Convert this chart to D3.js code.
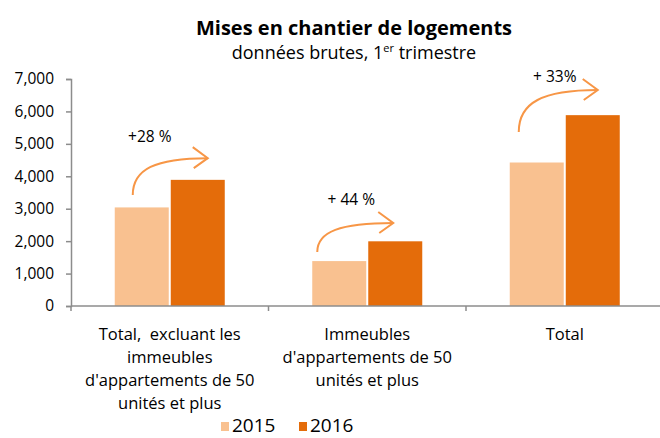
<!DOCTYPE html>
<html>
<head>
<meta charset="utf-8">
<script src="https://cdn.jsdelivr.net/npm/d3@7"></script>
<style>
  body { margin: 0; background: #fff; }
  text { font-family: "Open Sans", "Noto Sans", sans-serif; }
</style>
</head>
<body>
<svg id="drawing_region"></svg>
<script>
// data
const categories = [
    ["Total,  excluant les", "immeubles", "d'appartements de 50", "unités et plus"],
    ["Immeubles", "d'appartements de 50", "unités et plus"],
    ["Total"]
];
const years = ["2015", "2016"];
const values2015 = [3040, 1385, 4425];
const values2016 = [3890, 1995, 5885];
const changeLabels = ["+28 %", "+ 44 %", "+ 33%"];
const yTicks = [0, 1000, 2000, 3000, 4000, 5000, 6000, 7000];

const colors = { "2015": "#F9C190", "2016": "#E46C0A" };
const arrowColor = "#F79646";

// arrow placement per group (dx from group centre, y in data units)
const arrowLayout = [
    { sx: -37, sv: 3420, ex: 38, ev: 4560, lx: -20, lv: 5060 },
    { sx: -50, sv: 1665, ex: 26, ev: 2560, lx: -16, lv: 3115 },
    { sx: -46, sv: 5365, ex: 33, ev: 6660, lx: -10, lv: 6905 }
];

const width = 660, height = 438;
const margin = { left: 71, right: -3.5, top: 79, bottom: 132 };

const svg = d3.select('#drawing_region')
    .attr('width', width)
    .attr('height', height);

const ids = categories.map((c, i) => "c" + i);

const x0 = d3.scaleBand()
    .domain(ids)
    .range([margin.left, width - margin.right])
    .paddingInner(0.443)
    .paddingOuter(0.2215);

const x1 = d3.scaleBand()
    .domain(years)
    .range([0, x0.bandwidth()])
    .paddingInner(0.036);

const y = d3.scaleLinear()
    .domain([0, 7000])
    .range([height - margin.bottom, margin.top]);

// title
svg.append('text')
    .attr('x', 354).attr('y', 35)
    .attr('text-anchor', 'middle')
    .style('font-size', '20px')
    .style('font-weight', 'bold')
    .text("Mises en chantier de logements");

const sub = svg.append('text')
    .attr('x', 354).attr('y', 59)
    .attr('text-anchor', 'middle')
    .style('font-size', '18px');
sub.append('tspan').text("données brutes, 1");
sub.append('tspan').attr('dy', -7).style('font-size', '11px').text("er");
sub.append('tspan').attr('dy', 7).text(" trimestre");

// y axis
const yAxis = svg.append('g')
    .attr('transform', `translate(${margin.left},0)`)
    .call(d3.axisLeft(y).tickValues(yTicks).tickFormat(d3.format(",")).tickSize(5).tickPadding(12));
yAxis.select('.domain').attr('stroke', '#8c8c8c').attr('stroke-width', 1.5);
yAxis.selectAll('.tick line').attr('stroke', '#8c8c8c').attr('stroke-width', 1.5);
yAxis.selectAll('.tick text')
    .style('font-size', '15.5px')
    .style('font-family', '"Open Sans", sans-serif')
    .attr('fill', '#000');

// bars
const rows = ids.map((id, i) => ({ id, vals: [values2015[i], values2016[i]] }));
const groups = svg.selectAll('g.group')
    .data(rows)
    .join('g')
    .attr('class', 'group')
    .attr('transform', d => `translate(${x0(d.id)},0)`);

groups.selectAll('rect')
    .data(d => years.map((yr, j) => ({ yr, v: d.vals[j] })))
    .join('rect')
    .attr('x', d => x1(d.yr))
    .attr('y', d => y(d.v))
    .attr('width', x1.bandwidth())
    .attr('height', d => y(0) - y(d.v))
    .attr('fill', d => colors[d.yr]);

// x axis line with boundary ticks
const x0Step = x0.step();
const bounds = ids.map((id, i) => margin.left + i * x0Step);
const xAxis = svg.append('g');
xAxis.append('line')
    .attr('x1', margin.left).attr('x2', width)
    .attr('y1', y(0)).attr('y2', y(0))
    .attr('stroke', '#8c8c8c').attr('stroke-width', 1.5);
xAxis.selectAll('line.tk')
    .data(bounds)
    .join('line')
    .attr('class', 'tk')
    .attr('x1', d => d).attr('x2', d => d)
    .attr('y1', y(0)).attr('y2', y(0) + 5)
    .attr('stroke', '#8c8c8c').attr('stroke-width', 1.5);

// category labels
const catText = svg.selectAll('text.cat')
    .data(categories)
    .join('text')
    .attr('class', 'cat')
    .attr('x', (d, i) => x0(ids[i]) + x0.bandwidth() / 2)
    .attr('y', 340)
    .attr('text-anchor', 'middle')
    .style('white-space', 'pre')
    .style('font-size', '16.5px');
catText.selectAll('tspan')
    .data(d => d)
    .join('tspan')
    .attr('x', function() { return this.parentNode.getAttribute('x'); })
    .attr('dy', (d, j) => j === 0 ? 0 : 23)
    .text(d => d);

// growth arrows
const curve = (x0p, y0p, x1p, y1p) =>
    `M${x0p},${y0p} C${x0p},${y0p - (y0p - y1p) * 0.7} ${x0p + (x1p - x0p) * 0.3},${y1p} ${x1p},${y1p}`;

arrowLayout.forEach((a, i) => {
    const c = x0(ids[i]) + x0.bandwidth() / 2;
    const sx = c + a.sx, sy = y(a.sv), ex = c + a.ex, ey = y(a.ev);
    svg.append('path')
        .attr('d', curve(sx, sy, ex, ey))
        .attr('fill', 'none')
        .attr('stroke', arrowColor)
        .attr('stroke-width', 2);
    svg.append('path')
        .attr('d', `M${ex - 15},${ey - 11} L${ex},${ey} L${ex - 14},${ey + 10}`)
        .attr('fill', 'none')
        .attr('stroke', arrowColor)
        .attr('stroke-width', 2);
    svg.append('text')
        .attr('x', c + a.lx)
        .attr('y', y(a.lv))
        .attr('text-anchor', 'middle')
        .style('font-size', '15.5px')
        .text(changeLabels[i]);
});

// legend
const legend = svg.append('g').attr('transform', 'translate(221,432)');
const legItems = legend.selectAll('g')
    .data(years)
    .join('g')
    .attr('transform', (d, i) => `translate(${i * 78},0)`);
legItems.append('rect')
    .attr('x', 0).attr('y', -10)
    .attr('width', 8).attr('height', 9)
    .attr('fill', d => colors[d]);
legItems.append('text')
    .attr('x', 11).attr('y', 0)
    .style('font-size', '19px')
    .text(d => d);
</script>
</body>
</html>
